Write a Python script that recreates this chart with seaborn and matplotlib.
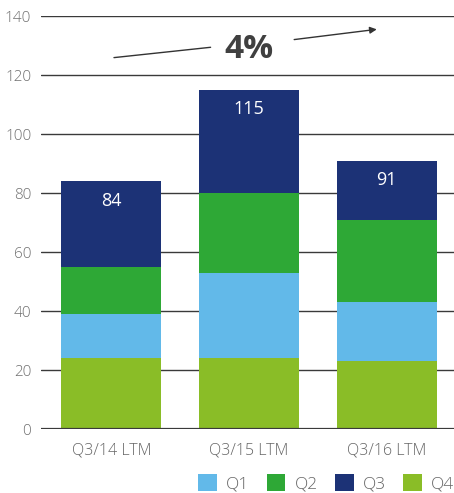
import matplotlib
matplotlib.use("Agg")
import matplotlib.pyplot as plt
import seaborn as sns
import pandas as pd
from matplotlib.patches import Patch

# Revenue per LTM period, split by quarter
periods = ["Q3/14 LTM", "Q3/15 LTM", "Q3/16 LTM"]
q4 = [24, 24, 23]
q1 = [15, 29, 20]
q2 = [16, 27, 28]
q3 = [29, 35, 20]
yticks = [0, 20, 40, 60, 80, 100, 120, 140]
growth_label = "4%"

colors = {"Q1": "#62B9E9", "Q2": "#2EA836", "Q3": "#1C3276", "Q4": "#8ABD27"}

sns.set_theme(style="white")
plt.rcParams["font.family"] = ["Open Sans", "DejaVu Sans"]

df = pd.DataFrame({"period": periods, "Q4": q4, "Q1": q1, "Q2": q2, "Q3": q3})
# cumulative heights for stacking (bottom to top: Q4, Q1, Q2, Q3)
df["c_Q4"] = df["Q4"]
df["c_Q1"] = df["c_Q4"] + df["Q1"]
df["c_Q2"] = df["c_Q1"] + df["Q2"]
df["c_Q3"] = df["c_Q2"] + df["Q3"]

fig = plt.figure(figsize=(4.54, 4.93), dpi=100)
ax = fig.add_axes([0.0903, 0.1298, 0.9097, 0.8377])

for key in ["Q3", "Q2", "Q1", "Q4"]:
    sns.barplot(data=df, x="period", y="c_" + key, color=colors[key],
                saturation=1, width=0.727, ax=ax, zorder=3, linewidth=0)

ax.set_xlim(-0.51, 2.49)
ax.set_ylim(0, 140)
ax.set_yticks(yticks)
ax.set_xlabel("")
ax.set_ylabel("")
ax.grid(axis="y", color="#3a3a3a", linewidth=1.0, zorder=0)
ax.axhline(0, color="#3a3a3a", linewidth=1.6, zorder=4)
for s in ax.spines.values():
    s.set_visible(False)
ax.tick_params(axis="y", length=0, pad=7, labelsize=11, labelcolor="#707070")
ax.tick_params(axis="x", length=0, pad=10, labelsize=11.5, labelcolor="#666666")
for lbl in ax.get_yticklabels() + ax.get_xticklabels():
    lbl.set_fontweight(300)

# totals inside the top segment
for i, total in enumerate(df["c_Q3"]):
    ax.annotate(f"{total:d}", xy=(i, total), xytext=(0, -14),
                textcoords="offset points", ha="center", va="center",
                color="white", fontsize=13)

# growth annotation
ax.annotate("", xy=(0.742, 129.5), xytext=(0.0, 125.8),
            arrowprops=dict(arrowstyle="-", color="#333333", lw=1))
ax.annotate("", xy=(1.949, 135.6), xytext=(1.309, 131.9),
            arrowprops=dict(arrowstyle="-|>", color="#333333", lw=1,
                            mutation_scale=10))
ax.text(1.0, 128.8, growth_label, ha="center", va="center", fontsize=24,
        fontweight="bold", color="#404040")

handles = [Patch(facecolor=colors[k], edgecolor="none") for k in ["Q1", "Q2", "Q3", "Q4"]]
leg = fig.legend(handles, ["Q1", "Q2", "Q3", "Q4"], loc="upper left",
                 bbox_to_anchor=(0.436, 0.038), ncol=4, frameon=False,
                 fontsize=12.5, handlelength=1.09, handleheight=1.09,
                 handletextpad=0.52, columnspacing=1.0, borderaxespad=0,
                 borderpad=0, labelcolor="#666666")
for t in leg.get_texts():
    t.set_fontweight(300)

fig.savefig("out.png", dpi=100)
